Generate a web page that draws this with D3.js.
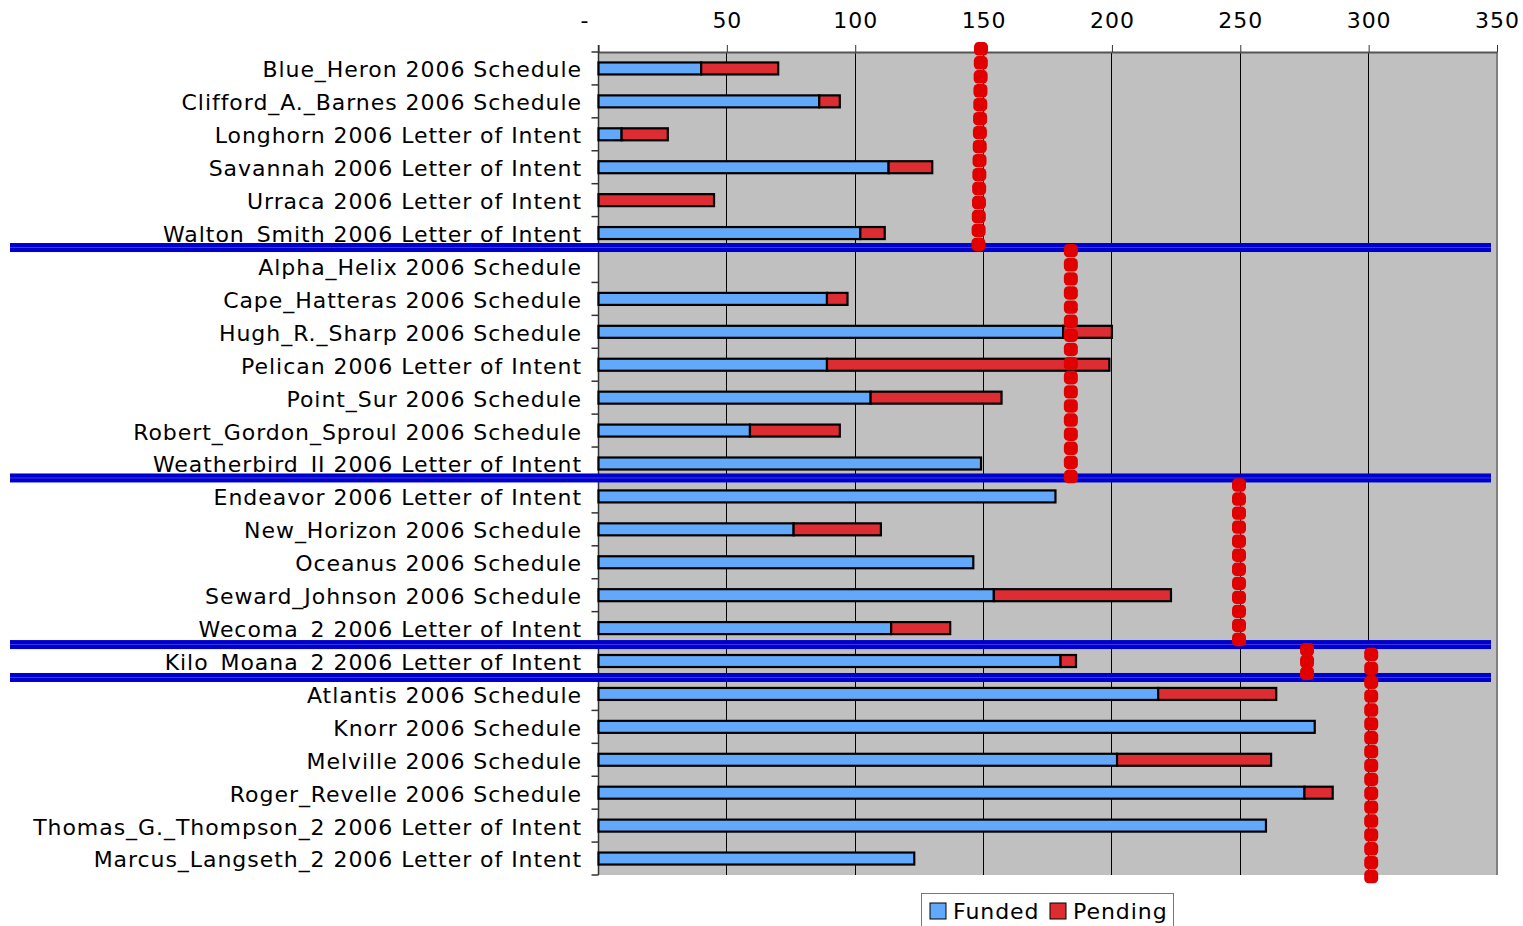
<!DOCTYPE html>
<html><head><meta charset="utf-8">
<script src="https://cdn.jsdelivr.net/npm/d3@7"></script>
<style>body{margin:0;background:#fff}svg{display:block}text{font-family:"DejaVu Sans",Verdana,sans-serif;fill:#000;letter-spacing:0.95px}</style>
</head><body><svg id="c" width="1523" height="926"></svg>
<script>
const categories = [
 "Blue_Heron 2006 Schedule","Clifford_A._Barnes 2006 Schedule","Longhorn 2006 Letter of Intent",
 "Savannah 2006 Letter of Intent","Urraca 2006 Letter of Intent","Walton_Smith 2006 Letter of Intent",
 "Alpha_Helix 2006 Schedule","Cape_Hatteras 2006 Schedule","Hugh_R._Sharp 2006 Schedule",
 "Pelican 2006 Letter of Intent","Point_Sur 2006 Schedule","Robert_Gordon_Sproul 2006 Schedule",
 "Weatherbird_II 2006 Letter of Intent","Endeavor 2006 Letter of Intent","New_Horizon 2006 Schedule",
 "Oceanus 2006 Schedule","Seward_Johnson 2006 Schedule","Wecoma_2 2006 Letter of Intent",
 "Kilo_Moana_2 2006 Letter of Intent","Atlantis 2006 Schedule","Knorr 2006 Schedule",
 "Melville 2006 Schedule","Roger_Revelle 2006 Schedule","Thomas_G._Thompson_2 2006 Letter of Intent",
 "Marcus_Langseth_2 2006 Letter of Intent"];
const funded  = [40,86,9,113,0,102,0,89,181,89,106,59,149,178,76,146,154,114,180,218,279,202,275,260,123];
const pending = [30,8,18,17,45,9.5,0,8,19,110,51,35,0,0,34,0,69,23,6,46,0,60,11,0,0];
const xTicks = [0,50,100,150,200,250,300,350];
const xTickLabels = ["-","50","100","150","200","250","300","350"];
// class capacity limit lines: value at top, value at bottom, start / end (in row units)
const limitTop = [149,184,249.5,276,301];
const limitBottom = [148,184,249.5,276,301];
const limitFrom = [-0.3,5.83,12.95,17.95,18.1];
const limitTo = [6.05,13.1,18.05,19.08,25.25];
// group separators (row edge index)
const separators = [6,13,18,19];
const sepShift = [-2,-2,0,0];

const svg = d3.select("#c");
const L=598.5, R=1497, T=52, B=875;
const x = d3.scaleLinear().domain([0,350]).range([L,R]);
const y = d3.scaleBand().domain(d3.range(categories.length)).range([T,B]);
const edge = i => T + i*y.step();

svg.append("rect").attr("x",L).attr("y",T).attr("width",R-L).attr("height",B-T).attr("fill","#c0c0c0");
// gridlines
svg.append("g").selectAll("line").data(xTicks.slice(1)).join("line")
 .attr("x1",d=>x(d)).attr("x2",d=>x(d)).attr("y1",T).attr("y2",B)
 .attr("stroke",(d,i)=>d===350?"#808080":"#000").attr("stroke-width",d=>d===350?2:1).attr("shape-rendering","crispEdges");

// top axis
const topAxis = svg.append("g").attr("transform",`translate(0,${T})`)
 .call(d3.axisTop(x).tickValues(xTicks).tickFormat((d,i)=>xTickLabels[i]).tickSize(7).tickSizeOuter(0));
topAxis.select(".domain").attr("stroke","#555").attr("stroke-width",2);
topAxis.selectAll(".tick line").attr("stroke","#333");
topAxis.selectAll(".tick text").attr("font-size",22).attr("font-family","DejaVu Sans").attr("fill","#000")
 .attr("y",-24).attr("dx",(d)=>d===0?-14:0);

// left axis line and ticks
svg.append("line").attr("x1",L).attr("x2",L).attr("y1",T-7).attr("y2",B).attr("stroke","#333").attr("stroke-width",1.5);
svg.append("g").selectAll("line").data(d3.range(categories.length+1)).join("line")
 .attr("x1",L-7).attr("x2",L).attr("y1",d=>edge(d)).attr("y2",d=>edge(d)).attr("stroke","#333").attr("stroke-width",1.5);

// labels
svg.append("g").selectAll("text").data(categories).join("text")
 .attr("x",582).attr("y",(d,i)=>y(i)+y.bandwidth()/2+1).attr("dy","0.36em")
 .attr("text-anchor","end").attr("font-size",22).text(d=>d);

// bars
const bh=12;
const g = svg.append("g");
categories.forEach((c,i)=>{
  const yc = y(i)+y.bandwidth()/2;
  if(funded[i]>0) g.append("rect").attr("x",x(0)).attr("y",yc-bh/2).attr("width",x(funded[i])-x(0)).attr("height",bh)
    .attr("fill","#63a9fb").attr("stroke","#000").attr("stroke-width",2.2);
  if(pending[i]>0) g.append("rect").attr("x",x(funded[i])).attr("y",yc-bh/2).attr("width",x(funded[i]+pending[i])-x(funded[i])).attr("height",bh)
    .attr("fill","#de2c33").attr("stroke","#000").attr("stroke-width",2.2);
});

// separators
const sep = svg.append("g");
separators.forEach((s,k)=>{
  const yy = edge(s)+sepShift[k];
  sep.append("rect").attr("x",10).attr("y",yy-4.5).attr("width",1481).attr("height",9).attr("fill","#0000cc");
  sep.append("line").attr("x1",10).attr("x2",1491).attr("y1",yy).attr("y2",yy).attr("stroke","#3a3ae6").attr("stroke-width",1);
});

// limit lines (rounded-square dots)
const lim = svg.append("g");
const dotW=14, dotH=13.4, step=14.3;
limitTop.forEach((v,i)=>{
  const y0 = edge(limitFrom[i]), y1 = edge(limitTo[i]);
  const n = Math.max(1, Math.round((y1-y0-dotH)/step)+1);
  const st = n>1 ? (y1-y0-dotH)/(n-1) : 0;
  d3.range(n).forEach(k=>{
    const t = n>1 ? k/(n-1) : 0;
    const xv = x(v + (limitBottom[i]-v)*t);
    lim.append("rect").attr("x",xv-dotW/2).attr("y",y0+k*st).attr("width",dotW).attr("height",dotH)
      .attr("rx",4.5).attr("fill","#e00000");
  });
});

// legend
const lg = svg.append("g");
lg.append("rect").attr("x",921.5).attr("y",893.5).attr("width",252).attr("height",40).attr("fill","#fff").attr("stroke","#777").attr("stroke-width",1);
const items=[["Funded","#63a9fb",930],["Pending","#de2c33",1050]];
items.forEach(([t,c,xx])=>{
  lg.append("rect").attr("x",xx).attr("y",903).attr("width",16).attr("height",16).attr("fill",c).attr("stroke","#000").attr("stroke-width",1);
  lg.append("text").attr("x",xx+23).attr("y",919).attr("font-size",22).text(t);
});
</script></body></html>
